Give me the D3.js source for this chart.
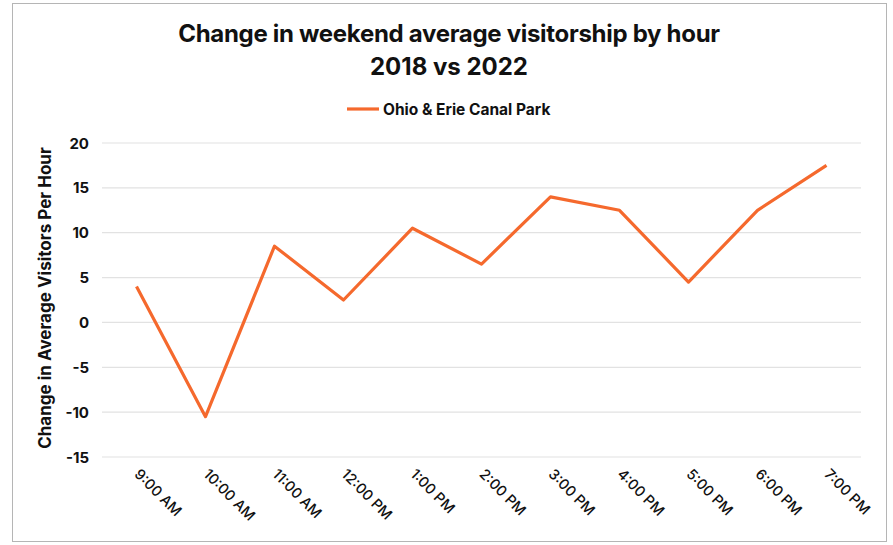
<!DOCTYPE html>
<html>
<head>
<meta charset="utf-8">
<script src="https://cdn.jsdelivr.net/npm/d3@7"></script>
<style>
  body { margin: 0; background: #fff; }
  text { font-family: "Inter", "Liberation Sans", sans-serif; fill: #111; }
</style>
</head>
<body>
<div id="chart"></div>
<script>
var w = 893, h = 545;

var hours = ["9:00 AM", "10:00 AM", "11:00 AM", "12:00 PM", "1:00 PM", "2:00 PM",
             "3:00 PM", "4:00 PM", "5:00 PM", "6:00 PM", "7:00 PM"];
var change = [4, -10.5, 8.5, 2.5, 10.5, 6.5, 14, 12.5, 4.5, 12.5, 17.5];
var yTicks = [20, 15, 10, 5, 0, -5, -10, -15];
var seriesName = "Ohio & Erie Canal Park";
var lineColor = "#f5692d";

var svg = d3.select("#chart").append("svg")
    .attr("width", w)
    .attr("height", h);

// frame around the picture
svg.append("rect")
    .attr("x", 12.5).attr("y", 3.5)
    .attr("width", 874).attr("height", 538)
    .attr("fill", "none")
    .attr("stroke", "#b5b5b5")
    .attr("stroke-width", 1);

var xScale = d3.scalePoint()
    .domain(hours)
    .range([102, 861])
    .padding(0.5);

var yScale = d3.scaleLinear()
    .domain([-15, 20])
    .range([457, 143]);

// gridlines
svg.append("g")
    .selectAll("line")
    .data(yTicks)
    .enter()
    .append("line")
    .attr("x1", 102).attr("x2", 861)
    .attr("y1", function(d) { return yScale(d); })
    .attr("y2", function(d) { return yScale(d); })
    .attr("stroke", "#e2e2e2")
    .attr("stroke-width", 1.2);

// y tick labels
svg.append("g")
    .selectAll("text")
    .data(yTicks)
    .enter()
    .append("text")
    .attr("x", 89)
    .attr("y", function(d) { return yScale(d) + 5.5; })
    .attr("text-anchor", "end")
    .attr("font-size", "15px")
    .attr("font-weight", "bold")
    .text(function(d) { return d; });

// x labels, rotated
svg.append("g")
    .selectAll("text")
    .data(hours)
    .enter()
    .append("text")
    .attr("transform", function(d) {
        return "translate(" + (xScale(d) - 3) + ",475) rotate(45)";
    })
    .attr("font-size", "14.5px")
    .attr("font-weight", 500)
    .text(function(d) { return d; });

// y axis title
svg.append("text")
    .attr("transform", "translate(51,298) rotate(-90)")
    .attr("text-anchor", "middle")
    .attr("font-size", "17px")
    .attr("font-weight", "bold")
    .text("Change in Average Visitors Per Hour");

// the line
var line = d3.line()
    .x(function(d, i) { return xScale(hours[i]); })
    .y(function(d) { return yScale(d); });

svg.append("path")
    .datum(change)
    .attr("d", line)
    .attr("fill", "none")
    .attr("stroke", lineColor)
    .attr("stroke-width", 3.2)
    .attr("stroke-linejoin", "round");

// title
svg.append("text")
    .attr("x", 449).attr("y", 42)
    .attr("text-anchor", "middle")
    .attr("font-size", "24px")
    .attr("font-weight", "bold")
    .attr("letter-spacing", "-0.3px")
    .text("Change in weekend average visitorship by hour");
svg.append("text")
    .attr("x", 449).attr("y", 75)
    .attr("text-anchor", "middle")
    .attr("font-size", "24px")
    .attr("font-weight", "bold")
    .text("2018 vs 2022");

// legend
svg.append("line")
    .attr("x1", 347).attr("x2", 379)
    .attr("y1", 109).attr("y2", 109)
    .attr("stroke", lineColor)
    .attr("stroke-width", 3.2);
svg.append("text")
    .attr("x", 383).attr("y", 114.5)
    .attr("font-size", "15.5px")
    .attr("font-weight", "bold")
    .text(seriesName);
</script>
</body>
</html>
